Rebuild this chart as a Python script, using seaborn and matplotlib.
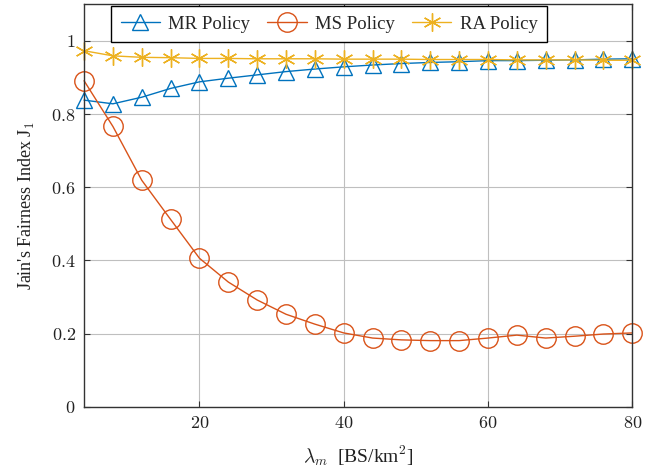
import numpy as np
import pandas as pd
import matplotlib
matplotlib.use("Agg")
import matplotlib.pyplot as plt
import seaborn as sns

# BS density lambda_m [BS/km^2]
density = [4, 8, 12, 16, 20, 24, 28, 32, 36, 40, 44, 48, 52, 56, 60, 64, 68, 72, 76, 80]

mr_policy = [0.838, 0.828, 0.846, 0.870, 0.888, 0.898, 0.907, 0.916, 0.923, 0.929,
             0.934, 0.938, 0.941, 0.943, 0.946, 0.946, 0.947, 0.948, 0.950, 0.951]
ms_policy = [0.891, 0.766, 0.619, 0.512, 0.406, 0.341, 0.292, 0.253, 0.226, 0.202,
             0.188, 0.183, 0.181, 0.181, 0.188, 0.196, 0.188, 0.193, 0.199, 0.202]
ra_policy = [0.973, 0.959, 0.955, 0.954, 0.952, 0.952, 0.951, 0.951, 0.951, 0.950,
             0.950, 0.950, 0.949, 0.949, 0.949, 0.948, 0.948, 0.948, 0.947, 0.947]

series_names = ["MR Policy", "MS Policy", "RA Policy"]
x_ticks = [20, 40, 60, 80]
x_tick_labels = ["20", "40", "60", "80"]
y_ticks = [0, 0.2, 0.4, 0.6, 0.8, 1.0]
y_tick_labels = ["0", "0.2", "0.4", "0.6", "0.8", "1"]

sns.set_style("whitegrid")
plt.rcParams["font.family"] = ["Liberation Serif", "DejaVu Serif"]
plt.rcParams["mathtext.fontset"] = "cm"

fig = plt.figure(figsize=(6.62, 4.72), dpi=100)
ax = fig.add_axes([0.127, 0.138, 0.828, 0.853])

df = pd.DataFrame({"density": density, "MR Policy": mr_policy,
                   "MS Policy": ms_policy, "RA Policy": ra_policy})

styles = {
    "MR Policy": dict(color="#0072BD", marker="^", markersize=11),
    "MS Policy": dict(color="#D95319", marker="o", markersize=14),
    "RA Policy": dict(color="#EDB120", marker=(6, 2, 0), markersize=13),
}

for name in series_names:
    st = styles[name]
    sns.lineplot(data=df, x="density", y=name, ax=ax, label=name,
                 color=st["color"], marker=st["marker"], markersize=st["markersize"],
                 markerfacecolor="none", markeredgecolor=st["color"],
                 markeredgewidth=1.0, linewidth=1.0, clip_on=False, zorder=3)

ax.set_xlim(4, 80)
ax.set_ylim(0, 1.1)
ax.set_xticks(x_ticks)
ax.set_xticklabels(["$%s$" % t for t in x_tick_labels])
ax.set_yticks(y_ticks)
ax.set_yticklabels(["$%s$" % t for t in y_tick_labels])

ax.grid(True, color="#bfbfbf", linewidth=0.8)
ax.set_axisbelow(True)
for s in ax.spines.values():
    s.set_color("#333333")
    s.set_linewidth(1.0)
    s.set_zorder(4)
ax.tick_params(direction="in", length=4, width=0.8, colors="#333333",
               labelcolor="#222222", labelsize=13, top=True, right=True,
               bottom=True, left=True, pad=6)

ax.set_xlabel(r"$\lambda_m$  [BS/km$^2$]", fontsize=14, color="#222222", labelpad=8)
ax.set_ylabel(r"Jain's Fairness Index J$_1$", fontsize=13, color="#222222", labelpad=10)

leg = ax.legend(loc="upper center", ncol=3, frameon=True, fontsize=13.5,
                bbox_to_anchor=(0.447, 1.0), borderaxespad=0.1, borderpad=0.5,
                handlelength=2.1, columnspacing=0.9, handletextpad=0.45,
                fancybox=False, edgecolor="black", framealpha=1.0)
leg.get_frame().set_linewidth(1.0)
leg.set_zorder(5)

fig.savefig("out.png", dpi=100)
